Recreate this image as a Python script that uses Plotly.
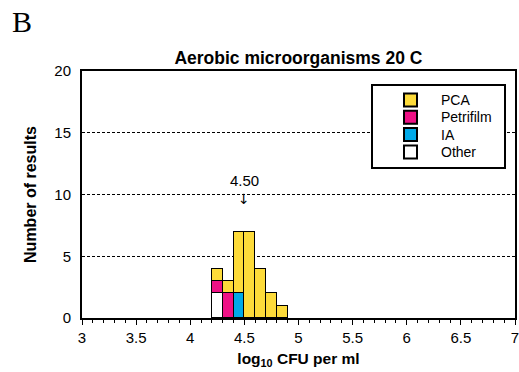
import plotly.graph_objects as go

bins = [4.25, 4.35, 4.45, 4.55, 4.65, 4.75, 4.85]
other = [2, 0, 0, 0, 0, 0, 0]
petrifilm = [1, 2, 0, 0, 0, 0, 0]
ia = [0, 0, 2, 0, 0, 0, 0]
pca = [1, 1, 5, 7, 4, 2, 1]

series = [("Other", other, "#ffffff"), ("Petrifilm", petrifilm, "#ee1185"),
          ("IA", ia, "#00a9e8"), ("PCA", pca, "#fddb3a")]
legend_order = ["PCA", "Petrifilm", "IA", "Other"]

FONT = "Liberation Sans, Arial, sans-serif"
W, H = 519, 372
L, R, T, B = 82, 4, 71, 54
PW, PH = W - L - R, H - T - B


def px(x):
    return (x - L) / PW


def py(y):
    return (H - B - y) / PH


fig = go.Figure()
for name, vals, col in series:
    fig.add_trace(go.Bar(x=bins, y=vals, width=0.1, name=name, showlegend=False,
                         marker=dict(color=col, line=dict(color="black", width=1.5))))

fig.update_layout(
    width=W, height=H,
    margin=dict(l=L, r=R, t=T, b=B),
    paper_bgcolor="white", plot_bgcolor="white",
    barmode="stack", bargap=0,
    font=dict(family=FONT, size=15, color="black"),
    title=dict(text="<b>Aerobic microorganisms 20 C</b>", x=0.575, xanchor="center",
               y=0.845, yanchor="middle", font=dict(size=17.5)),
)
fig.update_xaxes(range=[3, 7], dtick=0.5, tick0=3, ticks="outside", ticklen=5, tickwidth=1,
                 tickcolor="black", showline=True, linecolor="black", linewidth=2, mirror=True,
                 showgrid=False, zeroline=False, automargin=False, ticklabeloverflow="allow",
                 minor=dict(dtick=0.1, ticks="outside", ticklen=3, tickcolor="black", showgrid=False),
                 title=dict(text="<b>log<sub>10</sub> CFU per ml</b>", standoff=8, font=dict(size=15.5)))
fig.update_yaxes(range=[0, 20], dtick=5, ticks="", showline=True, linecolor="black", linewidth=2,
                 mirror=True, showgrid=True, gridcolor="black", gridwidth=1, griddash="3px,2px",
                 zeroline=False, ticklabelstandoff=6, automargin=False,
                 title=dict(text="<b>Number of results</b>", standoff=14, font=dict(size=16)))

# legend box (drawn manually)
fig.add_shape(type="rect", xref="paper", yref="paper", x0=px(372), x1=px(505), y0=py(168), y1=py(85),
              line=dict(color="black", width=2), fillcolor="white", layer="above")
colors = {n: c for n, _, c in series}
for i, name in enumerate(legend_order):
    cy = 100 + i * 17.3
    fig.add_shape(type="rect", xref="paper", yref="paper", x0=px(404), x1=px(417),
                  y0=py(cy + 6.5), y1=py(cy - 6.5), line=dict(color="black", width=2),
                  fillcolor=colors[name], layer="above")
    fig.add_annotation(xref="paper", yref="paper", x=px(439), y=py(cy), xanchor="left",
                       yanchor="middle", text=name, showarrow=False, font=dict(size=14))

fig.add_annotation(x=4.5, y=11.1, text="4.50", showarrow=False, font=dict(size=15))
fig.add_annotation(x=4.5, y=9.6, text="↓", showarrow=False, font=dict(size=14, family="DejaVu Sans"))
fig.add_annotation(xref="paper", yref="paper", x=px(10), y=py(21), xanchor="left", yanchor="middle",
                   text="B", showarrow=False,
                   font=dict(family="Liberation Serif, Times New Roman, serif", size=30))

fig.write_html("out.html")
